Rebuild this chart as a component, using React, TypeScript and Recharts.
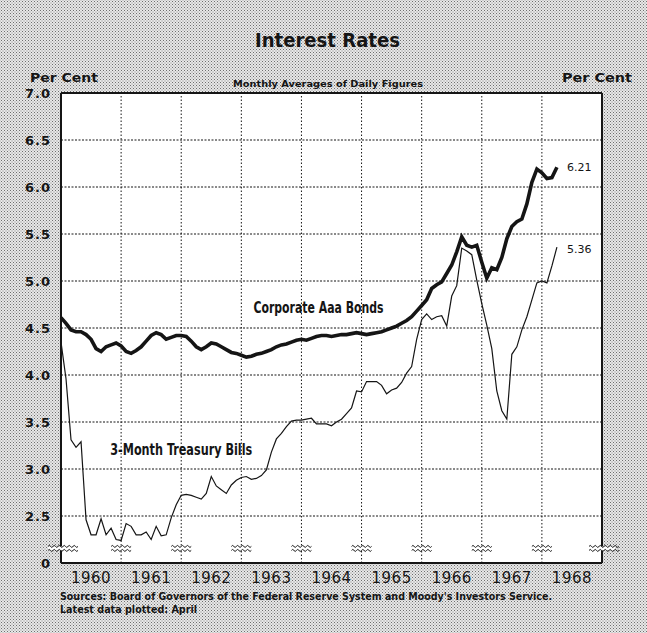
import React from 'react'
import { LineChart, Line, XAxis, YAxis, CartesianGrid, ReferenceLine, ReferenceDot } from 'recharts'

// months counted from Jan 1960 (0) to Apr 1968 (99)
const years = ['1960', '1961', '1962', '1963', '1964', '1965', '1966', '1967', '1968']
const yearCenters = [6, 18, 30, 42, 54, 66, 78, 90, 102]
const yearEdges = [12, 24, 36, 48, 60, 72, 84, 96]
const breakMarks = [0, 12, 24, 36, 48, 60, 72, 84, 96, 108]
const yTicks = [2, 2.5, 3, 3.5, 4, 4.5, 5, 5.5, 6, 6.5, 7]
const gridValues = [2.5, 3, 3.5, 4, 4.5, 5, 5.5, 6, 6.5]

const aaaBonds = [
  4.61, 4.55, 4.48, 4.46, 4.46, 4.43, 4.38, 4.28, 4.25, 4.30, 4.32, 4.34,
  4.31, 4.25, 4.23, 4.26, 4.30, 4.36, 4.42, 4.45, 4.43, 4.38, 4.40, 4.42,
  4.42, 4.41, 4.36, 4.30, 4.27, 4.30, 4.34, 4.33, 4.30, 4.27, 4.24, 4.23,
  4.21, 4.19, 4.20, 4.22, 4.23, 4.25, 4.27, 4.30, 4.32, 4.33, 4.35, 4.37,
  4.38, 4.37, 4.39, 4.41, 4.42, 4.42, 4.41, 4.42, 4.43, 4.43, 4.44, 4.45,
  4.44, 4.43, 4.44, 4.45, 4.46, 4.48, 4.50, 4.52, 4.55, 4.58, 4.62, 4.68,
  4.74, 4.80, 4.92, 4.96, 4.99, 5.08, 5.17, 5.31, 5.47, 5.38, 5.36, 5.38,
  5.20, 5.03, 5.14, 5.12, 5.25, 5.45, 5.58, 5.63, 5.66, 5.82, 6.05, 6.19,
  6.15, 6.09, 6.10, 6.21,
]

const treasuryBills = [
  4.35, 3.96, 3.31, 3.23, 3.29, 2.46, 2.30, 2.30, 2.47, 2.30, 2.37, 2.25,
  2.24, 2.42, 2.39, 2.30, 2.30, 2.33, 2.25, 2.39, 2.29, 2.30, 2.48, 2.62,
  2.72, 2.73, 2.72, 2.70, 2.68, 2.74, 2.92, 2.82, 2.78, 2.74, 2.83, 2.88,
  2.91, 2.92, 2.89, 2.90, 2.93, 2.99, 3.18, 3.32, 3.38, 3.45, 3.51, 3.52,
  3.52, 3.53, 3.54, 3.48, 3.48, 3.48, 3.46, 3.50, 3.53, 3.59, 3.65, 3.83,
  3.82, 3.93, 3.93, 3.93, 3.89, 3.80, 3.84, 3.86, 3.92, 4.02, 4.09, 4.38,
  4.59, 4.65, 4.59, 4.62, 4.63, 4.52, 4.84, 4.95, 5.35, 5.32, 5.28, 5.01,
  4.76, 4.53, 4.28, 3.83, 3.62, 3.53, 4.22, 4.30, 4.48, 4.62, 4.80, 4.98,
  5.00, 4.98, 5.16, 5.36,
]

const data = aaaBonds.map((v, i) => ({ m: i, aaa: v, tbill: treasuryBills[i] }))

const ink = '#151515'
const font = "'DejaVu Sans', sans-serif"
const narrow = "'Liberation Sans Narrow', 'DejaVu Sans Condensed', 'DejaVu Sans', sans-serif"

const fmtY = (v: number) => (v === 2 ? '0' : v.toFixed(1))
const fmtX = (v: number) => years[yearCenters.indexOf(v)] ?? ''

function BreakMark(props: any) {
  const { cx, cy } = props
  const w = props.wide ? 26 : 20
  const wave = (y: number) => {
    let d = `M${cx - w / 2},${y}`
    for (let i = 0; i < w / 5; i++) d += ` q1.25,-2 2.5,0 q1.25,2 2.5,0`
    return d
  }
  return (
    <g>
      <rect x={cx - w / 2} y={cy - 2} width={w} height={4} fill="#fff" />
      <path d={wave(cy - 2)} fill="none" stroke={ink} strokeWidth={1} />
      <path d={wave(cy + 2)} fill="none" stroke={ink} strokeWidth={1} />
    </g>
  )
}

function SeriesLabel(props: any) {
  const { cx, cy, text, width, size } = props
  return (
    <text x={cx} y={cy} textAnchor="middle" fontFamily={narrow} fontWeight="bold" fontSize={size}
      fill={ink} textLength={width} lengthAdjust="spacingAndGlyphs">{text}</text>
  )
}

function EndLabel(props: any) {
  const { cx, cy, text } = props
  return <text x={cx} y={cy} dy={4} fontFamily={font} fontSize={11} fill={ink}>{text}</text>
}

export default function App() {
  return (
    <div style={{
      position: 'relative', width: 647, height: 633,
      backgroundColor: '#e8e8e8',
      backgroundImage:
        'radial-gradient(circle, #6e6e6e 0 0.6px, transparent 0.95px), radial-gradient(circle, #858585 0 0.5px, transparent 0.85px)',
      backgroundSize: '3px 3px, 3px 3px',
      backgroundPosition: '0 0, 1.5px 1.5px',
    }}>
      <style>{'body{margin:0}'}</style>
      <LineChart width={647} height={633} data={data} margin={{ top: 93, right: 0, bottom: 40, left: 0 }}>
        <CartesianGrid fill="#fff" horizontal={false} vertical={false} />
        <XAxis dataKey="m" type="number" domain={[0, 108]} ticks={yearCenters} tickFormatter={fmtX}
          interval={0} height={30} tickLine={false} tickSize={6} tickMargin={3}
          axisLine={{ stroke: ink, strokeWidth: 2 }}
          tick={{ fontFamily: font, fontSize: 15, fill: ink, letterSpacing: 0.5 }} />
        <YAxis domain={[2, 7]} ticks={yTicks} tickFormatter={fmtY} width={61} interval={0}
          tickLine={false} tickMargin={4} axisLine={{ stroke: ink, strokeWidth: 2 }}
          tick={{ fontFamily: font, fontSize: 13, fontWeight: 'bold', fill: ink, letterSpacing: 1 }} />
        <YAxis yAxisId="r" orientation="right" domain={[2, 7]} ticks={yTicks} tickFormatter={fmtY}
          width={45} interval={0} tickLine={false} tickMargin={4} axisLine={{ stroke: ink, strokeWidth: 2 }}
          tick={{ fontFamily: font, fontSize: 13, fontWeight: 'bold', fill: ink, letterSpacing: 1 }} />
        {gridValues.map(v => (
          <ReferenceLine key={'h' + v} y={v} stroke={ink} strokeWidth={1} strokeDasharray="2 1.5" />
        ))}
        {yearEdges.map(e => (
          <ReferenceLine key={'v' + e} x={e} stroke={ink} strokeWidth={1} strokeDasharray="1.5 2" />
        ))}
        <ReferenceLine y={7} stroke={ink} strokeWidth={2} />
        {breakMarks.map((b, i) => (
          <ReferenceDot key={b} x={b} y={2.155} r={0}
            shape={(p: any) => <BreakMark {...p} wide={i === 0 || i === breakMarks.length - 1} />} />
        ))}
        <Line dataKey="tbill" stroke={ink} strokeWidth={1.2} dot={false} isAnimationActive={false} />
        <Line dataKey="aaa" stroke={ink} strokeWidth={3.6} dot={false} isAnimationActive={false} />
        <ReferenceDot x={51.4} y={4.656} r={0}
          shape={(p: any) => <SeriesLabel {...p} text="Corporate Aaa Bonds" width={130} size={15} />} />
        <ReferenceDot x={24} y={3.146} r={0}
          shape={(p: any) => <SeriesLabel {...p} text="3-Month Treasury Bills" width={142} size={16} />} />
        <ReferenceDot x={101} y={6.21} r={0} shape={(p: any) => <EndLabel {...p} text="6.21" />} />
        <ReferenceDot x={101} y={5.34} r={0} shape={(p: any) => <EndLabel {...p} text="5.36" />} />
      </LineChart>
      <svg width={647} height={633} style={{ position: 'absolute', left: 0, top: 0, pointerEvents: 'none' }}>
        <text x={327.5} y={47} textAnchor="middle" fontFamily={font} fontWeight="bold" fontSize={20}
          fill={ink} textLength={145} lengthAdjust="spacingAndGlyphs">Interest Rates</text>
        <text x={30} y={82} fontFamily={font} fontWeight="bold" fontSize={13} fill={ink}
          textLength={68} lengthAdjust="spacingAndGlyphs">Per Cent</text>
        <text x={562} y={82} fontFamily={font} fontWeight="bold" fontSize={13} fill={ink}
          textLength={70} lengthAdjust="spacingAndGlyphs">Per Cent</text>
        <text x={233} y={87} fontFamily={font} fontWeight="bold" fontSize={9.5} fill={ink}
          textLength={190} lengthAdjust="spacingAndGlyphs">Monthly Averages of Daily Figures</text>
        <text x={60} y={600} fontFamily={font} fontWeight="bold" fontSize={11} fill={ink}
          textLength={492} lengthAdjust="spacingAndGlyphs">
          Sources: Board of Governors of the Federal Reserve System and Moody's Investors Service.
        </text>
        <text x={60} y={613} fontFamily={font} fontWeight="bold" fontSize={11} fill={ink}
          textLength={137} lengthAdjust="spacingAndGlyphs">Latest data plotted: April</text>
      </svg>
    </div>
  )
}
